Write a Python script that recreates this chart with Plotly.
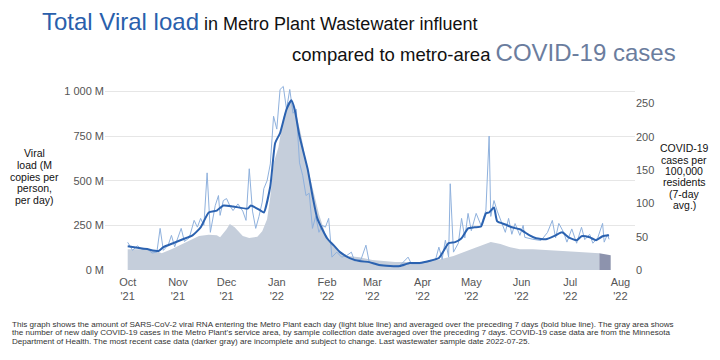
import plotly.graph_objects as go

FONT = "Liberation Sans, Arial, Helvetica, sans-serif"

# Daily viral load (M copies per person per day)
daily_dates = ["2021-10-01","2021-10-04","2021-10-07","2021-10-10","2021-10-13","2021-10-16","2021-10-19","2021-10-21","2021-10-23","2021-10-26","2021-10-28","2021-10-30",
 "2021-11-03","2021-11-05","2021-11-08","2021-11-11","2021-11-13","2021-11-15","2021-11-17","2021-11-19","2021-11-21","2021-11-24","2021-11-26","2021-11-27","2021-11-29",
 "2021-12-01","2021-12-03","2021-12-05","2021-12-08","2021-12-11","2021-12-13","2021-12-15","2021-12-17","2021-12-19","2021-12-21","2021-12-23","2021-12-24","2021-12-26","2021-12-28","2021-12-30",
 "2022-01-01","2022-01-03","2022-01-05","2022-01-07","2022-01-09","2022-01-11","2022-01-13","2022-01-15","2022-01-17","2022-01-19","2022-01-21","2022-01-23","2022-01-25","2022-01-27","2022-01-29","2022-01-31",
 "2022-02-02","2022-02-04","2022-02-07","2022-02-10","2022-02-13","2022-02-16","2022-02-18","2022-02-22","2022-02-25","2022-02-27",
 "2022-03-03","2022-03-08","2022-03-13","2022-03-18","2022-03-23","2022-03-25","2022-03-30",
 "2022-04-04","2022-04-09","2022-04-11","2022-04-13","2022-04-15","2022-04-17","2022-04-18","2022-04-20","2022-04-23","2022-04-25","2022-04-27","2022-04-29",
 "2022-05-01","2022-05-04","2022-05-07","2022-05-10","2022-05-12","2022-05-13","2022-05-15","2022-05-17","2022-05-19","2022-05-22","2022-05-24","2022-05-26","2022-05-28","2022-05-31",
 "2022-06-02","2022-06-03","2022-06-08","2022-06-13","2022-06-17","2022-06-20","2022-06-22","2022-06-24","2022-06-27","2022-06-29",
 "2022-07-02","2022-07-05","2022-07-08","2022-07-10","2022-07-13","2022-07-15","2022-07-18","2022-07-21","2022-07-22","2022-07-24","2022-07-25"]
daily_load = [155,110,135,115,120,95,100,233,110,140,194,130,
 233,160,180,278,240,289,250,544,211,360,417,306,389,
 400,360,333,370,330,278,567,330,233,300,380,456,500,594,861,
 789,1011,1028,900,1011,878,900,600,528,417,430,233,300,211,250,240,
 289,72,100,72,80,100,50,60,139,45,
 35,25,20,25,72,35,35,
 45,60,128,60,167,72,483,100,150,289,180,317,
 220,317,250,333,750,300,389,330,280,211,289,200,260,194,
 250,183,172,165,210,278,180,261,210,156,
 230,150,239,170,200,150,180,261,156,200,172]

# 7-day average viral load
avg_dates = ["2021-10-01","2021-10-09","2021-10-13","2021-10-20","2021-10-23","2021-10-29","2021-11-04","2021-11-10","2021-11-15","2021-11-20","2021-11-25","2021-11-29",
 "2021-12-05","2021-12-14","2021-12-16","2021-12-22","2021-12-24","2021-12-28","2021-12-31","2022-01-03","2022-01-07","2022-01-10","2022-01-12","2022-01-15","2022-01-20","2022-01-23","2022-01-26",
 "2022-02-01","2022-02-05","2022-02-09","2022-02-15","2022-02-21","2022-02-27","2022-03-05","2022-03-12","2022-03-18","2022-03-24","2022-03-30",
 "2022-04-05","2022-04-11","2022-04-17","2022-04-21","2022-04-25","2022-04-29","2022-05-03","2022-05-07","2022-05-10","2022-05-12","2022-05-15","2022-05-17","2022-05-22","2022-05-26","2022-05-31",
 "2022-06-06","2022-06-10","2022-06-16","2022-06-22","2022-06-26","2022-06-30","2022-07-05","2022-07-08","2022-07-13","2022-07-17","2022-07-21","2022-07-25"]
avg_load = [133,122,117,106,128,150,172,194,239,322,333,361,
 356,344,361,333,322,470,711,767,900,950,900,750,567,417,289,
 178,139,100,67,50,44,28,22,22,39,39,
 50,67,150,156,178,233,239,244,317,322,350,272,255,239,228,
 194,178,172,194,211,183,167,189,183,167,189,194]

# COVID-19 cases per 100,000 residents (7-day avg)
case_dates = ["2021-10-01","2021-10-10","2021-10-19","2021-10-22","2021-10-28","2021-11-06","2021-11-14","2021-11-20","2021-11-25","2021-11-27",
 "2021-12-01","2021-12-03","2021-12-06","2021-12-11","2021-12-15","2021-12-20","2021-12-23","2021-12-26","2021-12-28","2021-12-30",
 "2022-01-02","2022-01-05","2022-01-08","2022-01-10","2022-01-13","2022-01-16","2022-01-19","2022-01-23","2022-01-27","2022-01-31",
 "2022-02-04","2022-02-08","2022-02-14","2022-02-21","2022-03-01","2022-03-15","2022-04-01","2022-04-12","2022-04-20",
 "2022-05-01","2022-05-09","2022-05-13","2022-05-19","2022-05-25","2022-05-31","2022-06-08","2022-06-29","2022-07-19"]
cases = [31,31,28,25,31,42,51,53,52,49,
 61,69,64,51,48,50,58,76,110,160,
 184,228,252,252,233,203,163,124,84,54,
 39,28,21,19,15,12,12,16,21,
 31,39,42,39,34,31,31,28,25]
recent_dates = ["2022-07-19","2022-07-26"]
recent_cases = [25,22]

month_ticks = ["2021-10-01","2021-11-01","2021-12-01","2022-01-01","2022-02-01","2022-03-01","2022-04-01","2022-05-01","2022-06-01","2022-07-01","2022-08-01"]
month_labels = ["Oct<br>'21","Nov<br>'21","Dec<br>'21","Jan<br>'22","Feb<br>'22","Mar<br>'22","Apr<br>'22","May<br>'22","Jun<br>'22","Jul<br>'22","Aug<br>'22"]
load_ticks = [0,250,500,750,1000]
load_labels = ["0 M","250 M","500 M","750 M","1 000 M"]
case_ticks = [0,50,100,150,200,250]

left_title = ["Viral", "load (M", "copies per", "person,", "per day)"]
right_title = ["COVID-19", "cases per", "100,000", "residents", "(7-day", "avg.)"]
footnote = [
    "This graph shows the amount of SARS-CoV-2 viral RNA entering the Metro Plant each day (light blue line) and averaged over the preceding 7 days (bold blue line). The gray area shows",
    "the number of new daily COVID-19 cases in the Metro Plant's service area, by sample collection date averaged over the preceding 7 days. COVID-19 case data are from the Minnesota",
    "Department of Health. The most recent case data (darker gray) are incomplete and subject to change. Last wastewater sample date 2022-07-25.",
]

LOAD_MAX = 1064
CASE_MAX = 285

fig = go.Figure()
fig.add_trace(go.Scatter(x=case_dates, y=cases, yaxis="y", mode="lines", line=dict(width=0, color="#c5cedb"),
                         fill="tozeroy", fillcolor="#c5cedb", hoverinfo="skip"))
fig.add_trace(go.Scatter(x=recent_dates, y=recent_cases, yaxis="y", mode="lines", line=dict(width=0, color="#8d93ad"),
                         fill="tozeroy", fillcolor="#8d93ad", hoverinfo="skip"))
fig.add_trace(go.Scatter(x=daily_dates, y=daily_load, yaxis="y2", mode="lines", line=dict(width=1, color="#8fb1dd")))
fig.add_trace(go.Scatter(x=avg_dates, y=avg_load, yaxis="y2", mode="lines", line=dict(width=2, color="#2b62b0", shape="spline", smoothing=0.5)))

# the page body adds an 8px offset, so the plot box is placed 8px up/left
fig.update_layout(
    width=720, height=360,
    margin=dict(l=97, r=93, t=72, b=98),
    paper_bgcolor="white", plot_bgcolor="white",
    showlegend=False,
    font=dict(family=FONT, size=11, color="#555"),
    xaxis=dict(type="date", range=["2021-09-17", "2022-08-10"], tickvals=month_ticks, ticktext=month_labels,
               showgrid=False, showline=False, zeroline=False, ticks="", ticklabelstandoff=4,
               tickfont=dict(size=11, color="#555")),
    yaxis=dict(range=[0, CASE_MAX], side="right", tickvals=case_ticks, showgrid=False, zeroline=False,
               showline=False, ticks="", tickfont=dict(size=11, color="#555")),
    yaxis2=dict(range=[0, LOAD_MAX], side="left", overlaying="y", tickvals=load_ticks, ticktext=load_labels,
                showgrid=True, gridcolor="#e6e6e6", gridwidth=1, zeroline=False, showline=False, ticks="",
                tickfont=dict(size=11, color="#555")),
)

def px_x(x):
    return (x - 105) / 530.0

def px_y(y):
    return (270 - y) / 190.0

ann = [
    dict(x=px_x(40), y=1.31, xref="paper", yref="paper", xanchor="left", yanchor="middle", showarrow=False,
         text="<span style='font-size:24px;color:#2a5fac'>Total Viral load</span><span style='font-size:18px;color:#111'> in Metro Plant Wastewater influent</span>"),
    dict(x=px_x(678), y=1.145, xref="paper", yref="paper", xanchor="right", yanchor="middle", showarrow=False,
         text="<span style='font-size:18.5px;color:#111'>compared to metro-area </span><span style='font-size:24px;color:#6b7d9e'>COVID-19 cases</span>"),
]
for i, t in enumerate(left_title):
    ann.append(dict(x=px_x(34.5), y=px_y(153.3 + 11.7 * i), xref="paper", yref="paper", xanchor="center", yanchor="middle",
                    showarrow=False, text=t, font=dict(size=10.5, color="#111")))
for i, t in enumerate(right_title):
    ann.append(dict(x=px_x(684), y=px_y(148.3 + 11.3 * i), xref="paper", yref="paper", xanchor="center", yanchor="middle",
                    showarrow=False, text=t, font=dict(size=10.5, color="#111")))
for i, t in enumerate(footnote):
    ann.append(dict(x=px_x(10), y=px_y(324.3 + 8.6 * i), xref="paper", yref="paper", xanchor="left", yanchor="middle",
                    showarrow=False, text=t, font=dict(size=8.1, color="#333")))
fig.update_layout(annotations=ann)

fig.write_html("out.html")
